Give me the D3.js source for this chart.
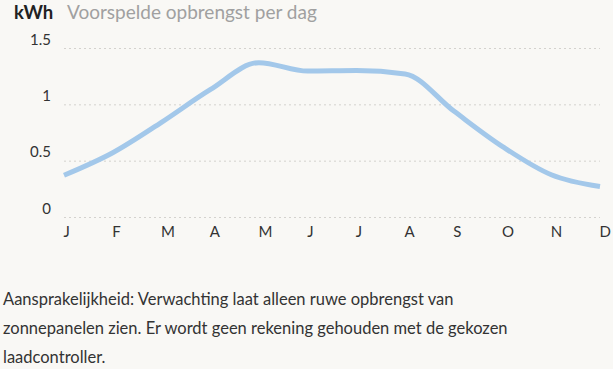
<!DOCTYPE html>
<html><head><meta charset="utf-8">
<script src="https://cdn.jsdelivr.net/npm/d3@7"></script>
<style>
html,body{margin:0;padding:0;background:#f9f8f5;}
svg{display:block;}
</style></head>
<body><svg id="c" width="613" height="369"></svg>
<script>
const months = ["J","F","M","A","M","J","J","A","S","O","N","D"];
const values = [0.37,0.57,0.84,1.13,1.37,1.295,1.30,1.27,0.94,0.625,0.375,0.27];
const yTicks = [0,0.5,1,1.5];
const yTickLabels = ["0","0.5","1","1.5"];
const unitLabel = "kWh";
const titleText = "Voorspelde opbrengst per dag";
const noteLines = ["Aansprakelijkheid: Verwachting laat alleen ruwe opbrengst van",
  "zonnepanelen zien. Er wordt geen rekening gehouden met de gekozen",
  "laadcontroller."];

const font = "Lato, 'Open Sans', sans-serif";
const svg = d3.select("#c");
const x = d3.scalePoint().domain(d3.range(months.length)).range([64,600]);
const y = d3.scaleLinear().domain([0,1.5]).range([217,48]);

// title
svg.append("text").attr("x",14).attr("y",18.5).attr("font-family",font).attr("font-size",18.5)
  .attr("font-weight","bold").attr("fill","#222").text(unitLabel);
svg.append("text").attr("x",67).attr("y",18.5).attr("font-family",font).attr("font-size",19)
  .attr("fill","#a0a0a0").text(titleText);

// grid
const yAxis = d3.axisLeft(y).tickValues(yTicks).tickSize(0)
  .tickFormat((d,i)=>yTickLabels[i]);
const gy = svg.append("g").attr("transform","translate(51,0)").call(yAxis);
gy.select(".domain").remove();
gy.selectAll("text").attr("font-family",font).attr("font-size",15).attr("fill","#333")
  .attr("text-anchor","end").attr("x",0).attr("dy",-4);
gy.selectAll(".tick").append("line").attr("x1",64-51).attr("x2",600-51)
  .attr("stroke","#d4d2ce").attr("stroke-width",1).attr("stroke-dasharray","2,3");

// x axis
const xAxis = d3.axisBottom(x).tickSize(0).tickFormat(i=>months[i]);
const gx = svg.append("g").attr("transform","translate(0,226)").call(xAxis);
gx.select(".domain").remove();
gx.selectAll("text").attr("font-family",font).attr("font-size",15).attr("fill","#333")
  .attr("text-anchor","start").attr("x",-1).attr("y",0).attr("dy","0.71em");

// line
const line = d3.line().x((d,i)=>x(i)).y(d=>y(d)).curve(d3.curveMonotoneX);
svg.append("path").datum(values).attr("d",line).attr("fill","none")
  .attr("stroke","#a3c8ea").attr("stroke-width",5).attr("stroke-linecap","butt");

// note
svg.append("g").selectAll("text").data(noteLines).join("text")
  .attr("x",3).attr("y",(d,i)=>305+i*29).attr("font-family",font).attr("font-size",16.5)
  .attr("fill","#333").text(d=>d);
</script></body></html>
